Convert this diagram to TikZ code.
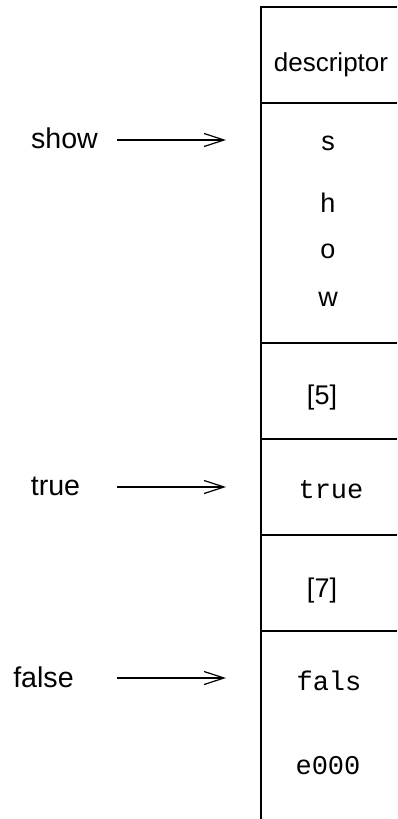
\documentclass[tikz,border=0pt]{standalone}
\usepackage{fontspec}
\setmainfont{Liberation Sans}
\setmonofont{Liberation Mono}
\usetikzlibrary{positioning, arrows.meta}

\begin{document}
\begin{tikzpicture}[
    x=0.5pt, y=-0.5pt,
    every node/.style={font=\fontsize{13.5}{16}\selectfont, inner sep=0pt},
    celltext/.style={anchor=base},
    codetext/.style={anchor=base, font=\fontsize{13.5}{16}\selectfont\ttfamily},
    varname/.style={anchor=base, font=\fontsize{14.3}{17}\selectfont},
    wall/.style={line width=0.8pt},
    pointer/.style={line width=0.6pt, -{Straight Barb[length=10pt,width=6.5pt]}}
]
\useasboundingbox (0,0) rectangle (397,819);

% Block outline
\draw[wall] (397,7) -- (261,7) -- (261,819);
\foreach \y in {103,343,439,535,631}
    \draw[wall] (261,\y) -- (397,\y);

% Block contents
\node[celltext, font=\fontsize{13}{16}\selectfont] (desc) at (331,71) {descriptor};
\node[celltext] (chS) at (328,150) {s};
\node[celltext] (chH) at (328,212) {h};
\node[celltext] (chO) at (328,258) {o};
\node[celltext] (chW) at (328,306) {w};
\node[celltext] (len5) at (322,404) {[5]};
\node[codetext] (valTrue) at (331,498) {true};
\node[celltext] (len7) at (322,597) {[7]};
\node[codetext] (valFals) at (329,690) {fals};
\node[codetext] (valE) at (328,774) {e000};

% Names
\node[varname] (show) at (64.5,148) {show};
\node[varname] (true) at (55.5,495) {true};
\node[varname] (false) at (43.5,687) {false};

% Pointers
\coordinate (showTail) at (117,140);
\coordinate (showHead) at (226,140);
\coordinate (trueTail) at (117,487);
\coordinate (trueHead) at (226,487);
\coordinate (falseTail) at (117,678);
\coordinate (falseHead) at (226,678);
\draw[pointer] (showTail) -- (showHead);
\draw[pointer] (trueTail) -- (trueHead);
\draw[pointer] (falseTail) -- (falseHead);

\end{tikzpicture}
\end{document}
